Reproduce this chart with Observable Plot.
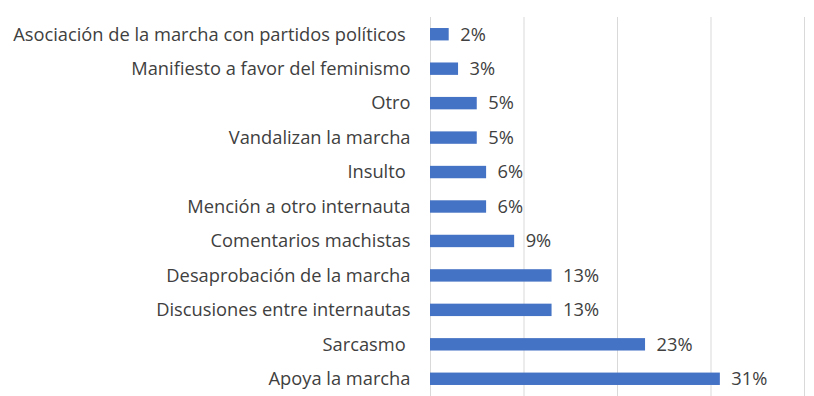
<!DOCTYPE html>
<html>
<head>
<meta charset="utf-8">
<script src="https://cdn.jsdelivr.net/npm/d3@7"></script>
<script src="https://cdn.jsdelivr.net/npm/@observablehq/plot@0.6"></script>
<style>
  html, body { margin: 0; padding: 0; background: #fff; }
  svg text { white-space: pre; }
</style>
</head>
<body>
<div id="chart"></div>
<script>
const categories = [
  "Asociación de la marcha con partidos políticos ",
  "Manifiesto a favor del feminismo",
  "Otro",
  "Vandalizan la marcha",
  "Insulto ",
  "Mención a otro internauta",
  "Comentarios machistas",
  "Desaprobación de la marcha",
  "Discusiones entre internautas",
  "Sarcasmo ",
  "Apoya la marcha"
];
const values = [2, 3, 5, 5, 6, 6, 9, 13, 13, 23, 31];
const xTicks = [0, 10, 20, 30, 40];

const data = categories.map((c, i) => ({category: c, value: values[i]}));

const chart = Plot.plot({
  width: 814,
  height: 396,
  marginLeft: 430,
  marginRight: 10,
  marginTop: 17,
  marginBottom: 0,
  style: {fontFamily: "'Open Sans', sans-serif", fontSize: "18.3px", color: "#404040", background: "#fff"},
  x: {domain: [0, 40], axis: null},
  y: {domain: categories, paddingInner: 0.64, paddingOuter: 0.32, round: false, label: null},
  marks: [
    Plot.ruleX(xTicks, {stroke: "#d9d9d9", strokeWidth: 1}),
    Plot.barX(data, {x: "value", y: "category", fill: "#4472C4"}),
    Plot.text(data, {x: "value", y: "category", text: d => d.value + "%", textAnchor: "start", dx: 11, fill: "#404040", fontSize: 18.3}),
    Plot.axisY({tickSize: 0, tickPadding: 20, label: null, fontSize: 18.3, color: "#404040"})
  ]
});
document.getElementById("chart").appendChild(chart);
</script>
</body>
</html>
